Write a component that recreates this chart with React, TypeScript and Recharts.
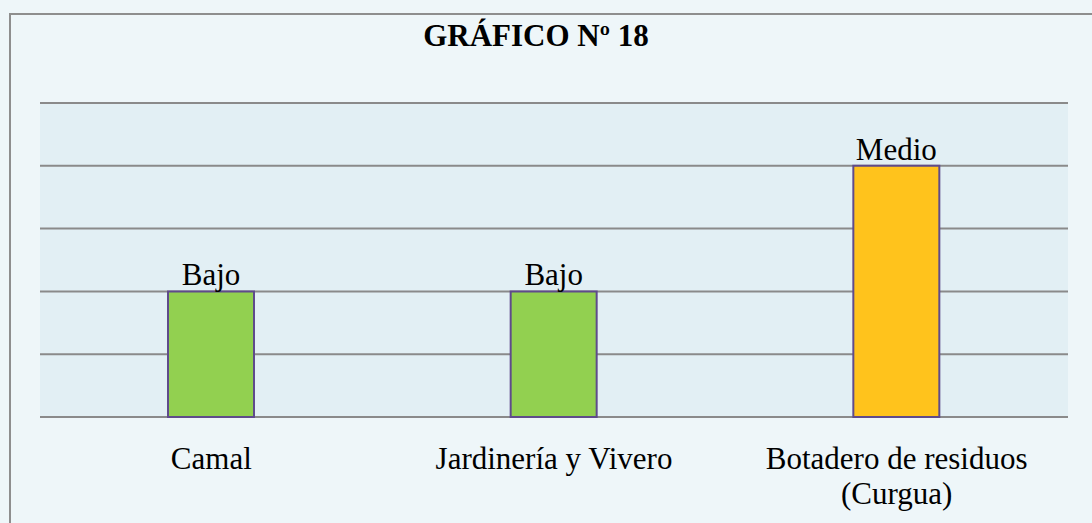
import { Bar, BarChart, CartesianGrid, Cell, LabelList, XAxis, YAxis } from "recharts";

const categories = ["Camal", "Jardinería y Vivero", "Botadero de residuos\n(Curgua)"];
const values = [2, 2, 4];
const levels = ["Bajo", "Bajo", "Medio"];
const colors = ["#92D050", "#92D050", "#FFC31C"];
const yTicks = [0, 1, 2, 3, 4, 5];

const data = categories.map((name, i) => ({ name, value: values[i], level: levels[i] }));

const serif = "'Liberation Serif', 'Times New Roman', serif";

const CategoryTick = (props: any) => {
  const { x, y, payload } = props;
  const lines = String(payload.value).split("\n");
  return (
    <text x={x} y={y + 44} textAnchor="middle" fontFamily={serif} fontSize={31} fill="#000">
      {lines.map((l: string, i: number) => (
        <tspan key={i} x={x} dy={i === 0 ? 0 : 35}>
          {l}
        </tspan>
      ))}
    </text>
  );
};

export default function App() {
  return (
    <div
      style={{
        position: "absolute",
        left: 0,
        top: 0,
        width: 1092,
        height: 523,
        background: "#EEF6F9",
        overflow: "hidden",
      }}
    >
      <div
        style={{
          position: "absolute",
          left: 9,
          top: 13,
          width: 1200,
          height: 600,
          border: "2px solid #8E8E8E",
          boxSizing: "border-box",
        }}
      />
      <div
        style={{
          position: "absolute",
          left: 0,
          width: 1072,
          top: 18,
          textAlign: "center",
          fontFamily: serif,
          fontWeight: "bold",
          fontSize: 31,
          color: "#000",
        }}
      >
        GRÁFICO Nº 18
      </div>
      <div style={{ position: "absolute", left: 0, top: 0 }}>
        <BarChart
          width={1092}
          height={523}
          data={data}
          margin={{ top: 103, right: 24, left: 40, bottom: 76 }}
        >
          <CartesianGrid
            vertical={false}
            stroke="#8A8A8A"
            strokeWidth={2}
            fill="#E2EFF4"
            fillOpacity={1}
          />
          <XAxis
            dataKey="name"
            axisLine={false}
            tickLine={false}
            interval={0}
            tick={<CategoryTick />}
          />
          <YAxis hide domain={[0, 5]} ticks={yTicks} />
          <Bar dataKey="value" barSize={86} stroke="#5F4B8B" strokeWidth={2} isAnimationActive={false}>
            {data.map((d, i) => (
              <Cell key={d.name} fill={colors[i]} />
            ))}
            <LabelList
              dataKey="level"
              position="top"
              offset={6}
              fill="#000"
              fontSize={31}
              fontFamily={serif}
            />
          </Bar>
        </BarChart>
      </div>
    </div>
  );
}
